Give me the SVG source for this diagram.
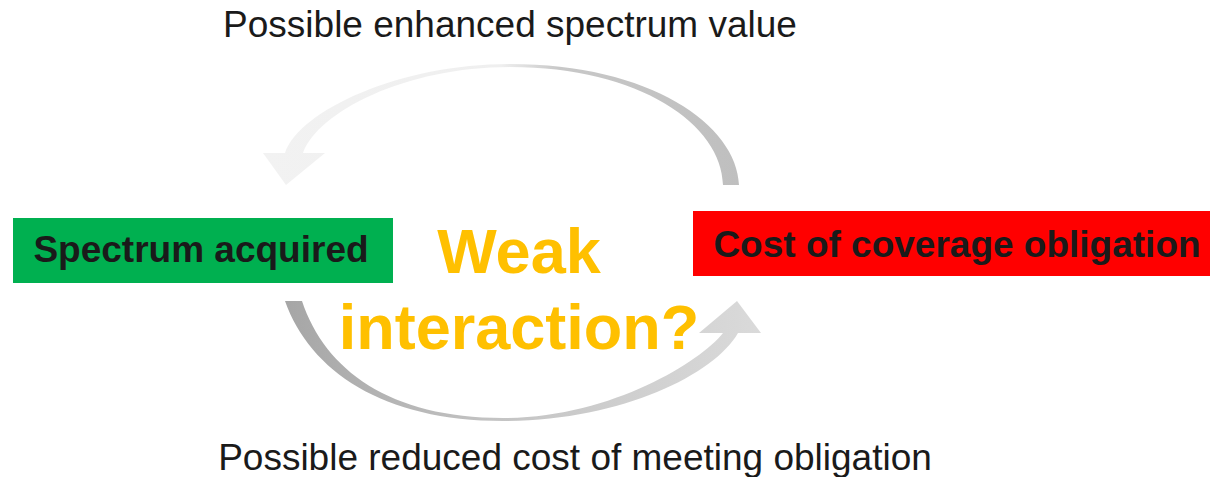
<svg xmlns="http://www.w3.org/2000/svg" width="1210" height="477" viewBox="0 0 1210 477">
  <defs>
    <linearGradient id="gTop" gradientUnits="userSpaceOnUse" x1="263" y1="0" x2="739" y2="0">
      <stop offset="0" stop-color="#f2f2f2"/>
      <stop offset="0.5" stop-color="#efefef"/>
      <stop offset="0.62" stop-color="#c8c8c8"/>
      <stop offset="1" stop-color="#bfbfbf"/>
    </linearGradient>
    <linearGradient id="gBot" gradientUnits="userSpaceOnUse" x1="285" y1="0" x2="761" y2="0">
      <stop offset="0" stop-color="#a6a6a6"/>
      <stop offset="0.45" stop-color="#c4c4c4"/>
      <stop offset="1" stop-color="#dadada"/>
    </linearGradient>
    <style>
      .lbl { font-family: "Liberation Sans", Arial, sans-serif; font-size: 37px; fill: #1a1a1a; text-anchor: middle; }
      .box { font-family: "Liberation Sans", Arial, sans-serif; font-size: 37px; font-weight: bold; fill: #1a1a1a; text-anchor: middle; }
      .mid { font-family: "Liberation Sans", Arial, sans-serif; font-size: 63px; font-weight: bold; fill: #ffc000; text-anchor: middle; }
    </style>
  </defs>
  <rect width="1210" height="477" fill="#ffffff"/>
  <g id="connectors">
    <path id="arrow-top" fill="url(#gTop)" d="M739,185 C737,125 650,64 510,64 C400,64 300,110 285,153 L263,153 L286,185 L325,153 L303,153 C318,112 405,67 510,67 C640,67 722,125 723,185 Z"/>
    <path id="arrow-bottom" fill="url(#gBot)" d="M285,301 C310,371 383,421 503,421 C620,421 714,375 738,333 L761,333 L737,301 L699,333 L723,333 C700,362 610,418 503,418 C390,418 325,370 302,301 Z"/>
  </g>
  <g id="label-top">
    <text class="lbl" x="510" y="37">Possible enhanced spectrum value</text>
  </g>
  <g id="label-bottom">
    <text class="lbl" x="575" y="470">Possible reduced cost of meeting obligation</text>
  </g>
  <g id="node-spectrum">
    <rect x="13" y="218" width="380" height="65" fill="#00b050"/>
    <text class="box" x="201" y="262">Spectrum acquired</text>
  </g>
  <g id="node-cost">
    <rect x="693" y="211" width="517" height="65" fill="#ff0000"/>
    <text class="box" x="957" y="257">Cost of coverage obligation</text>
  </g>
  <g id="center-text">
    <text class="mid" x="519" y="273">Weak</text>
    <text class="mid" x="519" y="349">interaction?</text>
  </g>
</svg>
